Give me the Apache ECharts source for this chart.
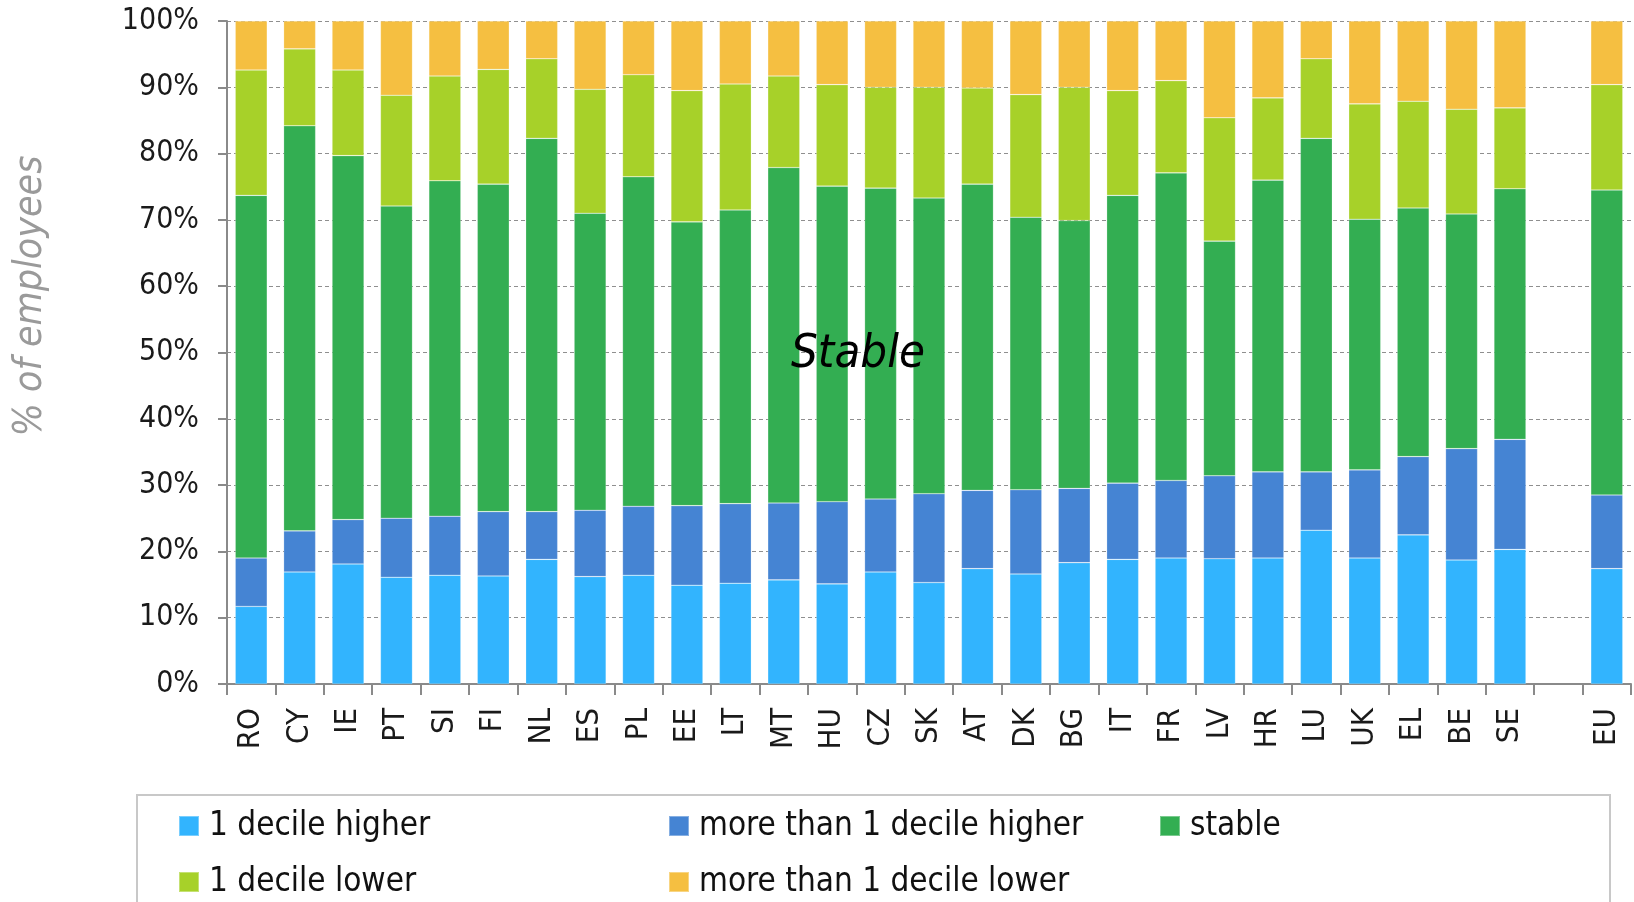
<!DOCTYPE html>
<html>
<head>
<meta charset="utf-8">
<title>Wage decile mobility</title>
<script src="https://cdn.jsdelivr.net/npm/echarts@6/dist/echarts.min.js"></script>
<style>
  html, body { margin: 0; padding: 0; background: #fff; }
  #chart { width: 1634px; height: 902px; }
</style>
</head>
<body>
<div id="chart"></div>
<script>
// Countries (an empty slot separates the EU aggregate)
const countries = ['RO','CY','IE','PT','SI','FI','NL','ES','PL','EE','LT','MT','HU','CZ','SK','AT','DK','BG','IT','FR','LV','HR','LU','UK','EL','BE','SE','','EU'];

// Share of employees (%) by move in the wage distribution
const oneDecileHigher     = [11.7,16.9,18.1,16.1,16.4,16.3,18.8,16.2,16.4,14.9,15.2,15.7,15.1,16.9,15.3,17.4,16.6,18.3,18.8,19.0,18.9,19.0,23.2,19.0,22.5,18.7,20.3,null,17.4];
const moreThanOneHigher   = [ 7.3, 6.2, 6.7, 8.9, 8.9, 9.7, 7.2,10.0,10.4,12.0,12.0,11.6,12.4,11.0,13.4,11.8,12.7,11.2,11.5,11.7,12.5,13.0, 8.8,13.3,11.8,16.8,16.6,null,11.1];
const stable              = [54.7,61.1,54.9,47.1,50.6,49.4,56.3,44.8,49.7,42.8,44.3,50.6,47.6,46.9,44.6,46.2,41.1,40.4,43.4,46.4,35.4,44.0,50.3,37.8,37.5,35.4,37.8,null,46.0];
const oneDecileLower      = [18.9,11.6,12.9,16.7,15.8,17.3,12.0,18.7,15.4,19.8,19.0,13.8,15.3,15.2,16.7,14.5,18.5,20.1,15.8,13.9,18.6,12.4,12.0,17.4,16.1,15.8,12.2,null,15.9];
const moreThanOneLower    = [ 7.4, 4.2, 7.4,11.2, 8.3, 7.3, 5.7,10.3, 8.1,10.5, 9.5, 8.3, 9.6,10.0,10.0,10.1,11.1,10.0,10.5, 9.0,14.6,11.6, 5.7,12.5,12.1,13.3,13.1,null, 9.6];

const seriesNames = ['1 decile higher','more than 1 decile higher','stable','1 decile lower','more than 1 decile lower'];
const seriesColors = ['#32B4FE','#4584D3','#33AE52','#A7D129','#F5BF41'];
const seriesData = [oneDecileHigher, moreThanOneHigher, stable, oneDecileLower, moreThanOneLower];

const yTicks = [0,10,20,30,40,50,60,70,80,90,100];

const FONT = '"DejaVu Sans Condensed", "DejaVu Sans", sans-serif';

const chart = echarts.init(document.getElementById('chart'), null, { renderer: 'canvas' });

// One legend block per item so that the columns line up in a grid
const legendSlots = [
  { left: 178, top: 808 },
  { left: 668, top: 808 },
  { left: 1159, top: 808 },
  { left: 178, top: 864 },
  { left: 668, top: 864 }
];

const legends = seriesNames.map((name, i) => ({
  data: [name],
  left: legendSlots[i].left,
  top: legendSlots[i].top,
  padding: 0,
  itemWidth: 20,
  itemHeight: 20,
  icon: 'rect',
  selectedMode: false,
  textStyle: {
    fontFamily: FONT,
    fontSize: 33,
    color: '#111',
    lineHeight: 36,
    padding: [0, 0, 0, 5]
  }
}));

const option = {
  animation: false,
  textStyle: { fontFamily: FONT },
  grid: { left: 227, right: 3, top: 21, bottom: 218, containLabel: false },
  legend: legends,
  xAxis: {
    type: 'category',
    data: countries,
    boundaryGap: true,
    axisLine: { show: true, lineStyle: { color: '#8a8a8a', width: 2 } },
    axisTick: { show: true, length: 11, interval: 0, alignWithLabel: false, lineStyle: { color: '#8a8a8a', width: 2 } },
    axisLabel: {
      interval: 0,
      rotate: 90,
      margin: 24,
      fontFamily: FONT,
      fontSize: 31,
      color: '#1a1a1a'
    },
    splitLine: { show: false }
  },
  yAxis: {
    type: 'value',
    min: 0,
    max: 100,
    interval: 10,
    axisLine: { show: true, lineStyle: { color: '#8a8a8a', width: 2 } },
    axisTick: { show: true, length: 9, lineStyle: { color: '#8a8a8a', width: 2 } },
    axisLabel: {
      margin: 28,
      fontFamily: FONT,
      fontSize: 30,
      color: '#1a1a1a',
      formatter: v => (yTicks.includes(v) ? v + '%' : '')
    },
    splitLine: { show: true, lineStyle: { color: '#8f8f8f', width: 1, type: [4, 3] } }
  },
  series: seriesNames.map((name, i) => ({
    name: name,
    type: 'bar',
    stack: 'total',
    barWidth: 32,
    itemStyle: { color: seriesColors[i], borderColor: 'rgba(255,255,255,0.35)', borderWidth: 0.6 },
    emphasis: { disabled: true },
    data: seriesData[i]
  })),
  graphic: [
    {
      // frame around the legend
      type: 'rect',
      silent: true,
      shape: { x: 137, y: 795, width: 1473, height: 140 },
      style: { fill: 'none', stroke: '#c8c8c8', lineWidth: 2 }
    },
    {
      // y-axis title
      type: 'text',
      silent: true,
      x: 31,
      y: 296,
      rotation: Math.PI / 2,
      style: {
        text: '% of employees',
        fontFamily: FONT,
        fontStyle: 'italic',
        fontSize: 39,
        fill: '#9a9a9a',
        align: 'center',
        verticalAlign: 'middle'
      }
    },
    {
      // annotation for the central block
      type: 'text',
      silent: true,
      z: 100,
      x: 858,
      y: 355,
      style: {
        text: 'Stable',
        fontFamily: FONT,
        fontStyle: 'italic',
        fontSize: 47,
        fill: '#000',
        align: 'center',
        verticalAlign: 'middle'
      }
    }
  ]
};

chart.setOption(option);
</script>
</body>
</html>
